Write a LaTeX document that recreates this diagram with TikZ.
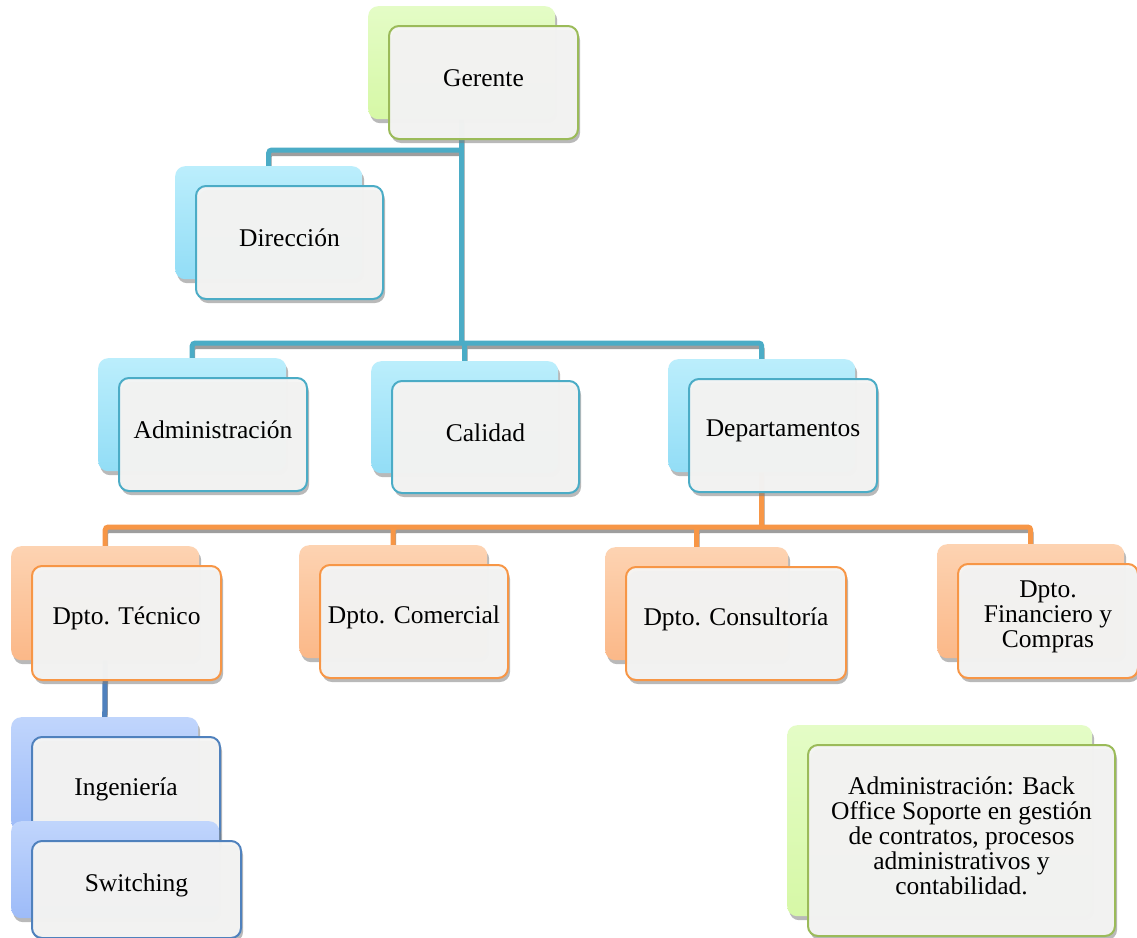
\documentclass[tikz,border=0pt]{standalone}
\usepackage{fontspec}
\setmainfont{Liberation Serif}
\usetikzlibrary{shadows,backgrounds}

\definecolor{verdeA}{HTML}{E4FCC6}
\definecolor{verdeB}{HTML}{D6F8A6}
\definecolor{verdeL}{HTML}{9BBB59}
\definecolor{celesteA}{HTML}{BBEEFC}
\definecolor{celesteB}{HTML}{92DDF6}
\definecolor{celesteL}{HTML}{4BACC6}
\definecolor{naranjaA}{HTML}{FDD3B2}
\definecolor{naranjaB}{HTML}{FBB888}
\definecolor{naranjaL}{HTML}{F79646}
\definecolor{azulA}{HTML}{C0D5FC}
\definecolor{azulB}{HTML}{9DBBF8}
\definecolor{azulL}{HTML}{4F81BD}
\definecolor{papel}{HTML}{F5F5F4}

\tikzset{
  sombra/.style={drop shadow={shadow xshift=2pt,shadow yshift=-4pt,fill=black!50,opacity=0.55}},
  fondo/.style={rounded corners=10pt,inner sep=0pt,sombra},
  frente/.style={rounded corners=10pt,inner sep=0pt,sombra,fill=papel,fill opacity=0.96,line width=2pt},
  texto/.style={align=center,inner sep=0pt,font=\fontsize{25.5}{25}\selectfont},
  linea/.style={line width=5pt,rounded corners=3pt}
}

% las tres ramas del organigrama
\newcommand{\ramas}[3]{%
  \draw[linea,#1] (gerenteB.south) -- (ramaA) (ramaD) -| (direccionB.north)
    foreach \hijo in {adminB,calidadB,deptosB}{(ramaA) -| (\hijo.north)};
  \draw[linea,#2] (deptosB.south) -- (ramaO)
    foreach \hijo in {tecnicoB,comercialB,consultoriaB,financieroB}{(ramaO) -| (\hijo.north)};
  \draw[linea,#3] (tecnicoB.south) -- (ingenieriaB.north);
}

\begin{document}
\begin{tikzpicture}[x=1pt,y=-1pt]
\useasboundingbox (0,0) rectangle (1137,937);
% cajas: fondo y frente
\foreach \n/\x/\y/\bw/\fw/\h/\esq/\t in {
  gerente/368/6/187/189/113/verde/Gerente,
  direccion/175/166/187/187/113/celeste/Dirección,
  admin/98/358/188/188/113/celeste/Administración,
  calidad/371/361/187/187/112/celeste/Calidad,
  deptos/668/359/187/188/113/celeste/Departamentos,
  tecnico/11/546/188/189/114/naranja/Dpto. Técnico,
  comercial/299/545/188/188/113/naranja/Dpto. Comercial,
  consultoria/605/547/183/220/113/naranja/Dpto. Consultoría,
  financiero/937/544/187/180/114/naranja/{Dpto.\\ Financiero y\\ Compras},
  nota/787/725/305/307/191/verde/{Administración: Back\\ Office Soporte en gestión\\ de contratos, procesos\\ administrativos y\\ contabilidad.},
  ingenieria/11/717/187/188/114/azul/Ingeniería,
  switching/11/821/208/209/97/azul/Switching}
{
  \node[fondo,anchor=north west,minimum width=\bw pt,minimum height=\h pt,
    top color=\esq A,bottom color=\esq B] (\n B) at (\x,\y) {};
  \node[frente,anchor=north west,minimum width=\fw pt,minimum height=\h pt,
    draw=\esq L] (\n) at (\x+20,\y+19) {};
  \node[texto] (\n T) at ([yshift=4.5pt]\n.center) {\t};
}
% conectores
\begin{pgfonlayer}{background}
  \fill[white] (0,0) rectangle (1137,937);
  \coordinate (ramaD) at (gerenteB.south |- 0,150);
  \coordinate (ramaA) at (gerenteB.south |- 0,343);
  \coordinate (ramaO) at (deptosB.south |- 0,527);
  \begin{scope}[transform canvas={xshift=0.5pt,yshift=-3.5pt}]
    \ramas{black!38}{black!38}{black!38}
  \end{scope}
  \ramas{celesteL}{naranjaL}{azulL}
\end{pgfonlayer}
\end{tikzpicture}
\end{document}
